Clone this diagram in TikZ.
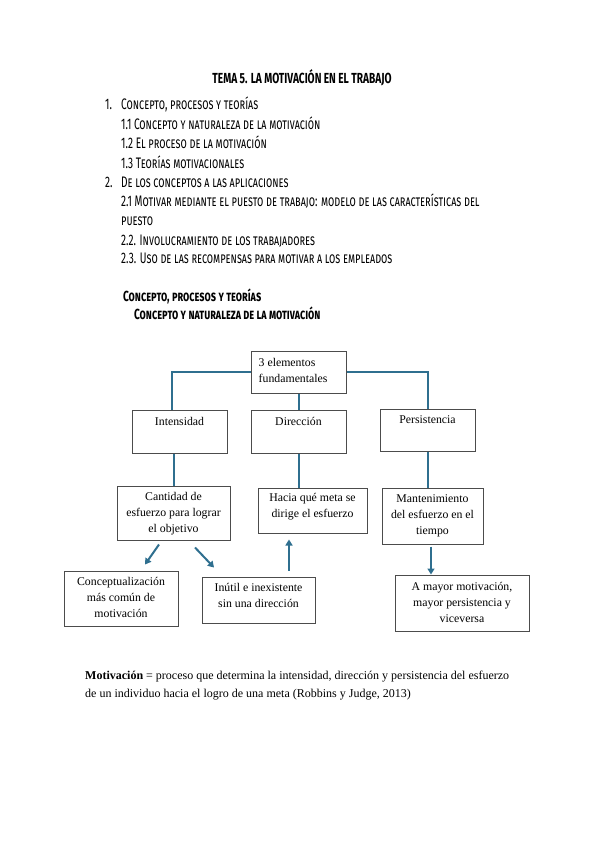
\documentclass[tikz,border=0pt]{standalone}
\usepackage{fontspec}
\usepackage{graphicx}
\setmainfont{Liberation Serif}
\newfontfamily\handfont{Fira Sans}[Letters=SmallCaps]
\usetikzlibrary{arrows.meta}
\definecolor{linkblue}{RGB}{47,111,143}
\newcommand{\hnd}[1]{\scalebox{0.8}[1.2]{\handfont #1}}
\newcommand{\hndb}[1]{\scalebox{0.8}[1.15]{\handfont\bfseries #1}}
\begin{document}
\begin{tikzpicture}[x=1pt,y=-1pt,
  hline/.style={anchor=base west, inner sep=0pt, font=\fontsize{12.7}{15}\selectfont},
  box/.style={draw=black!70, line width=1pt, rectangle, inner sep=0pt},
  btext/.style={anchor=north, align=center, inner sep=0pt, font=\fontsize{11.8}{16}\selectfont},
  link/.style={draw=linkblue, line width=2pt},
  arr/.style={link, -{Triangle[length=6pt,width=7pt]}},
  para/.style={anchor=base west, inner sep=0pt, font=\fontsize{12}{18}\selectfont},
]
\fill[white] (0,0) rectangle (599,848);
\useasboundingbox (0,0) rectangle (599,848);

% title and outline
\node[anchor=base, inner sep=0pt, font=\fontsize{12.7}{15}\selectfont] (title) at (302,84) {\hndb{TEMA 5. LA MOTIVACIÓN EN EL TRABAJO}};
\node[hline] (n1) at (105,110) {\hnd{1.}};
\node[hline] (i1) at (121,110) {\hnd{Concepto, procesos y teorías}};
\node[hline] (i11) at (121,130) {\hnd{1.1 Concepto y naturaleza de la motivación}};
\node[hline] (i12) at (121,149) {\hnd{1.2 El proceso de la motivación}};
\node[hline] (i13) at (121,168) {\hnd{1.3 Teorías motivacionales}};
\node[hline] (n2) at (105,187) {\hnd{2.}};
\node[hline] (i2) at (121,187) {\hnd{De los conceptos a las aplicaciones}};
\node[hline] (i21) at (121,206) {\hnd{2.1 Motivar mediante el puesto de trabajo: modelo de las características del}};
\node[hline] (i21b) at (121,225) {\hnd{puesto}};
\node[hline] (i22) at (121,245) {\hnd{2.2. Involucramiento de los trabajadores}};
\node[hline] (i23) at (121,263) {\hnd{2.3. Uso de las recompensas para motivar a los empleados}};
\node[hline] (h1) at (123,301) {\hndb{Concepto, procesos y teorías}};
\node[hline] (h2) at (134,319) {\hndb{Concepto y naturaleza de la motivación}};

% boxes
\node[box, minimum width=95pt, minimum height=42pt] (top) at (298.5,372) {};
\node[box, minimum width=95pt, minimum height=43pt] (int) at (179.5,431.5) {};
\node[box, minimum width=95pt, minimum height=43pt] (dir) at (298.5,431.5) {};
\node[box, minimum width=95pt, minimum height=42pt] (per) at (427.5,430) {};
\node[box, minimum width=113pt, minimum height=54pt] (cant) at (173.5,513) {};
\node[box, minimum width=109pt, minimum height=45pt] (hac) at (312.5,510.5) {};
\node[box, minimum width=101pt, minimum height=56pt] (man) at (432.5,516) {};
\node[box, minimum width=114pt, minimum height=55pt] (con) at (121,598.5) {};
\node[box, minimum width=113pt, minimum height=46pt] (inu) at (258.5,600) {};
\node[box, minimum width=134pt, minimum height=56pt] (may) at (462,603) {};

% box texts
\node[btext, anchor=north west, align=left] (topT) at ([xshift=8pt,yshift=-8pt]top.north west) {3 elementos\\fundamentales};
\node[btext] (intT) at ([yshift=-8pt]int.north) {Intensidad};
\node[btext] (dirT) at ([yshift=-8pt]dir.north) {Dirección};
\node[btext] (perT) at ([yshift=-7pt]per.north) {Persistencia};
\node[btext] (cantT) at ([yshift=-7pt]cant.north) {Cantidad de\\esfuerzo para lograr\\el objetivo};
\node[btext] (hacT) at ([yshift=-6pt]hac.north) {Hacia qué meta se\\dirige el esfuerzo};
\node[btext] (manT) at ([yshift=-7pt]man.north) {Mantenimiento\\del esfuerzo en el\\tiempo};
\node[btext] (conT) at ([yshift=-7pt]con.north) {Conceptualización\\más común de\\motivación};
\node[btext] (inuT) at ([yshift=-7pt]inu.north) {Inútil e inexistente\\sin una dirección};
\node[btext] (mayT) at ([yshift=-8pt]may.north) {A mayor motivación,\\mayor persistencia y\\viceversa};

% connectors
\draw[link] (top.west) -| ([xshift=-7.5pt]int.north);
\draw[link] (top.east) -| (per.north);
\draw[link] (top.south) -- (dir.north);
\draw[link] (cant.north |- int.south) -- (cant.north);
\draw[link] (dir.south) -- (dir.south |- hac.north);
\draw[link] (per.south) -- (per.south |- man.north);
\draw[arr] ([xshift=-14.5pt,yshift=-4pt]cant.south) -- ([xshift=24pt,yshift=6pt]con.north);
\draw[arr] ([xshift=21.5pt,yshift=-7pt]cant.south) -- ([xshift=-44.5pt,yshift=9pt]inu.north);
\draw[arr] ([xshift=30.5pt,yshift=6pt]inu.north) -- ([xshift=-23.5pt,yshift=-6pt]hac.south);
\draw[arr] ([xshift=-1.5pt,yshift=-2pt]man.south) -- ([xshift=-31pt]may.north);

% definition
\node[para] (d1) at (85,679) {\textbf{Motivación} = proceso que determina la intensidad, dirección y persistencia del esfuerzo};
\node[para] (d2) at (85,697) {de un individuo hacia el logro de una meta (Robbins y Judge, 2013)};
\end{tikzpicture}
\end{document}
